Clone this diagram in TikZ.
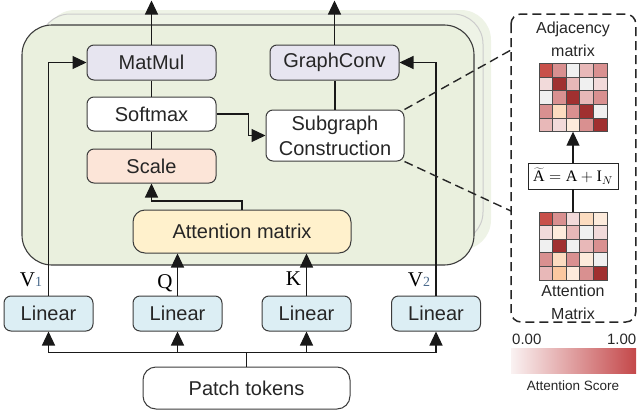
\RequirePackage{fix-cm}
\documentclass[tikz,border=0pt]{standalone}
\usepackage{fontspec}
\setmainfont{Liberation Sans}
\newfontfamily\serifA{Liberation Serif}
\usetikzlibrary{arrows.meta,calc}
\definecolor{bgA}{HTML}{EAF0DE}
\definecolor{bgB}{HTML}{EEF3E6}
\definecolor{bord}{HTML}{3C3C3C}
\definecolor{lav}{HTML}{E7E5F0}
\definecolor{peach}{HTML}{FCE5D8}
\definecolor{yel}{HTML}{FFF1CC}
\definecolor{blu}{HTML}{DCEEF4}
\definecolor{subc}{HTML}{4A6A8C}
\definecolor{mD}{HTML}{A03030}
\definecolor{mR}{HTML}{C8504A}
\definecolor{mP}{HTML}{D99090}
\definecolor{mL}{HTML}{E8B8B8}
\definecolor{mV}{HTML}{F2DADA}
\definecolor{mG}{HTML}{F0F0F0}
\definecolor{mE}{HTML}{FDEBDC}
\definecolor{mO}{HTML}{FCDCC0}
\definecolor{mQ}{HTML}{FBC8A0}
\definecolor{barL}{HTML}{FAF2F2}
\definecolor{barR}{HTML}{C4484A}
\tikzset{
  box/.style={draw=bord, line width=1pt, rounded corners=7pt,
    font=\fontsize{20}{22}\selectfont, text=black!85, inner sep=0pt,
    minimum height=35pt},
  arr/.style={-{Triangle[length=14pt,width=13pt]}, line width=1.2pt, draw=black!90},
  ln/.style={line width=1.2pt, draw=black!90},
  lbl/.style={font=\serifA\fontsize{21}{22}\selectfont, inner sep=0pt},
  small/.style={font=\fontsize{16}{23}\selectfont, align=center, inner sep=0pt, text=black!85},
  cellline/.style={draw=black!70, line width=0.7pt},
  dashbox/.style={line width=1.5pt, dash pattern=on 9pt off 5pt, draw=black!85},
}
\begin{document}
\begin{tikzpicture}[x=1pt,y=-1pt]
\useasboundingbox (0,0) rectangle (637,415);
% stacked background layers
\fill[bgB, rounded corners=30pt] (45,10) rectangle (491,250);
\draw[gray!40, fill=bgB, rounded corners=30pt, line width=1pt] (40,14) rectangle (483,242);
\draw[bord, fill=bgA, rounded corners=30pt, line width=1.1pt] (22,25) rectangle (474,265);

% nodes
\node[box, fill=lav, minimum width=129pt] (matmul) at (151.5,62.5) {MatMul};
\node[box, fill=white, minimum width=129pt, minimum height=34pt] (softmax) at (151.5,114) {Softmax};
\node[box, fill=peach, minimum width=129pt, minimum height=34pt] (scale) at (151.5,166) {Scale};
\node[box, fill=lav, minimum width=129pt] (gconv) at (334.5,62.5) {GraphConv};
\node[box, fill=white, minimum width=138pt, minimum height=51pt, align=center,
  font=\fontsize{20}{25}\selectfont] (subg) at (335,135.5) {Subgraph\\Construction};
\node[box, fill=yel, minimum width=218pt, minimum height=43pt, rounded corners=12pt] (attn) at (242,231.5) {Attention matrix};
\node[box, fill=blu, minimum width=89pt] (lin1) at (48.5,313.5) {Linear};
\node[box, fill=blu, minimum width=89pt] (lin2) at (177.5,313.5) {Linear};
\node[box, fill=blu, minimum width=89pt] (lin3) at (306.5,313.5) {Linear};
\node[box, fill=blu, minimum width=89pt] (lin4) at (436,313.5) {Linear};
\node[box, fill=white, minimum width=207pt, minimum height=42pt, rounded corners=13pt] (patch) at (246.5,388) {Patch tokens};

% labels
\node[lbl] (v1) at (31,280) {V{\color{subc}\fontsize{14}{14}\selectfont 1}};
\node[lbl] (q) at (165,283) {Q};
\node[lbl] (k) at (293.5,279) {K};
\node[lbl] (v2) at (419,280) {V{\color{subc}\fontsize{14}{14}\selectfont 2}};

% connectors
\coordinate (top1) at (151.5,0.5);
\coordinate (top2) at (334.5,0.5);
\draw[arr] (matmul.north) -- (top1);
\draw[arr] (gconv.north) -- (top2);
\draw[ln] (matmul.south) -- (softmax.north);
\draw[ln] (softmax.south) -- (scale.north);
\draw[arr] (attn.north) -- ++(0,-8.5) -| (scale.south);
\draw[arr] (softmax.east) -- ++(32,0) |- (subg.west);
\draw[ln] (subg.north) -- (subg.north |- gconv.south);
\draw[arr] (lin1.north) |- (matmul.west);
\draw[arr] (lin4.north) |- (gconv.east);
\draw[arr] (lin2.north) -- (lin2.north |- attn.south);
\draw[arr] (lin3.north) -- (lin3.north |- attn.south);
\coordinate (bus) at (246.5,352.5);
\draw[ln] (patch.north) -- (bus);
\draw[arr] (bus) -| (lin1.south);
\draw[arr] (bus) -| (lin2.south);
\draw[arr] (bus) -| (lin3.south);
\draw[arr] (bus) -| (lin4.south);

% right panel
\draw[dashbox, rounded corners=10pt] (511,14) rectangle (635.8,322);
\coordinate (d1) at (511,50);
\coordinate (d2) at (511,211);
\draw[dashbox, line width=1.4pt] (subg.north east) -- (d1);
\draw[dashbox, line width=1.4pt] (subg.south east) -- (d2);

\node[small] (adjt) at (573,39.5) {Adjacency\\matrix};
\node[inner sep=0pt, minimum size=68pt] (adj) at (573,97.5) {};
\foreach \row [count=\r from 0] in {{R,P,G,L,P},{V,D,L,G,V},{G,P,D,L,P},{P,O,P,D,G},{L,V,E,P,D}} {
  \foreach \c [count=\k from 0] in \row {
    \filldraw[cellline, fill=m\c] (539+13.6*\k,63.5+13.6*\r) rectangle ++(13.6,13.6);
  }
}
\node[draw=black!85, line width=0.9pt, inner sep=0pt, minimum width=90pt, minimum height=26pt,
  font=\fontsize{16}{20}\selectfont] (eq) at (573,176)
  {$\widetilde{\hbox{\serifA A}}=\hbox{\serifA A}+\hbox{\serifA I}_{N}$};
\node[inner sep=0pt, minimum size=68pt] (attm) at (573,246) {};
\foreach \row [count=\r from 0] in {{R,P,V,O,E},{V,E,L,G,V},{G,D,G,L,P},{P,O,P,E,G},{L,Q,E,P,D}} {
  \foreach \c [count=\k from 0] in \row {
    \filldraw[cellline, fill=m\c] (539+13.6*\k,212+13.6*\r) rectangle ++(13.6,13.6);
  }
}
\node[small] (attt) at (573,302) {Attention\\Matrix};
\draw[arr] (eq.north) -- (adj.south);
\draw[ln] (attm.north) -- (eq.south);

% colour bar
\shade[left color=barL, right color=barR] (511,348) rectangle (636,373);
\node[font=\fontsize{15}{16}\selectfont, text=black!85, anchor=west, inner sep=0pt] (c0) at (512,339) {0.00};
\node[font=\fontsize{15}{16}\selectfont, text=black!85, anchor=east, inner sep=0pt] (c1) at (636.5,339) {1.00};
\node[font=\fontsize{13.5}{15}\selectfont, text=black!85] (cs) at (573,386) {Attention Score};
\end{tikzpicture}
\end{document}
